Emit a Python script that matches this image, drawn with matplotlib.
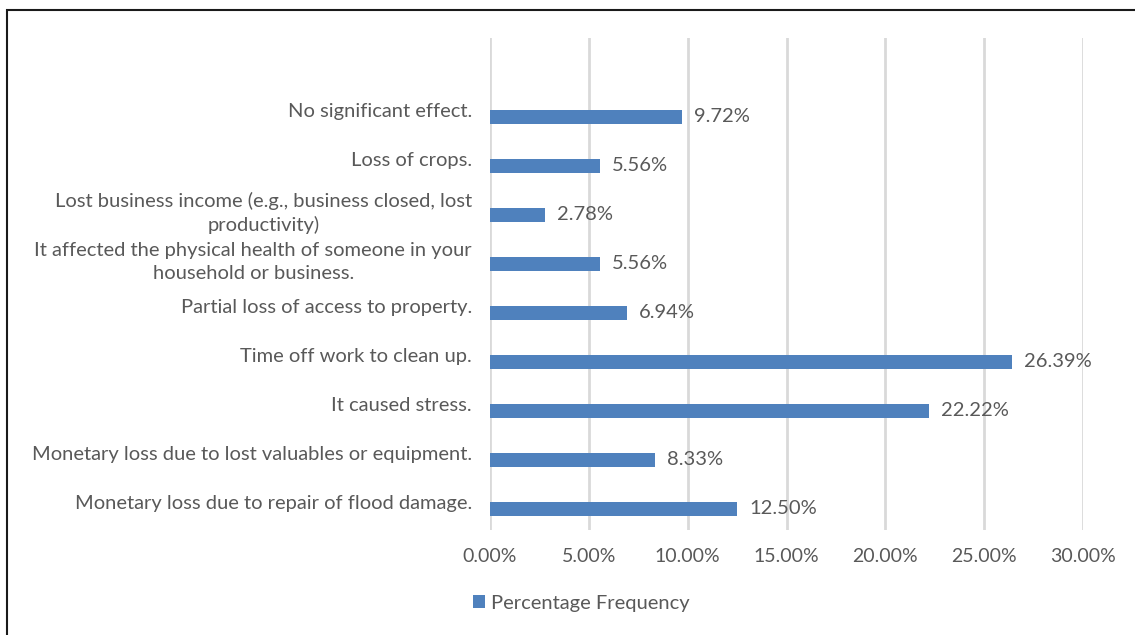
import numpy as np
import matplotlib.pyplot as plt
from matplotlib.patches import Rectangle
from matplotlib.ticker import FuncFormatter

# Flood impact responses, bottom row first
labels = [
    "Monetary loss due to repair of flood damage.",
    "Monetary loss due to lost valuables or equipment.",
    "It caused stress.",
    "Time off work to clean up.",
    "Partial loss of access to property.",
    "It affected the physical health of someone in your\nhousehold or business.",
    "Lost business income (e.g., business closed, lost\nproductivity)",
    "Loss of crops.",
    "No significant effect.",
]
pct = [12.50, 8.33, 22.22, 26.39, 6.94, 5.56, 2.78, 5.56, 9.72]
xticks = [0, 5, 10, 15, 20, 25, 30]

bar_color = "#4F81BD"
text_color = "#595959"
grid_color = "#D9D9D9"

plt.rcParams["font.family"] = ["Lato", "DejaVu Sans"]

fig = plt.figure(figsize=(11.35, 6.35), dpi=100)
ax = fig.add_axes([490 / 1135, 1 - 530 / 635, (1083 - 490) / 1135, (530 - 38) / 635])

y = np.arange(len(labels))
bars = ax.barh(y - 0.14, pct, height=0.27, color=bar_color, zorder=3,
               label="Percentage Frequency")

for b, v in zip(bars, pct):
    ax.text(b.get_width() + 0.6, b.get_y() + b.get_height() / 2, f"{v:.2f}%",
            va="center", ha="left", fontsize=14.5, color=text_color)

ax.set_xlim(0, 30)
ax.set_ylim(-0.57, 9.47)
ax.set_xticks(xticks)
ax.xaxis.set_major_formatter(FuncFormatter(lambda v, p: f"{v:.2f}%"))
ax.set_yticks(y)
ax.set_yticklabels(labels, multialignment="center", linespacing=1.45)
ax.tick_params(axis="both", length=0, labelsize=14.5, labelcolor=text_color)
ax.tick_params(axis="x", labelsize=14, pad=13)
ax.tick_params(axis="y", pad=13)
ax.grid(axis="x", color=grid_color, linewidth=2, zorder=0)
for s in ax.spines.values():
    s.set_visible(False)

leg = fig.legend(handles=[bars], labels=["Percentage Frequency"],
                 loc="center left", bbox_to_anchor=(455 / 1135, 1 - 603 / 635),
                 frameon=False, fontsize=14.5, handlelength=0.6, handleheight=0.6,
                 handletextpad=0.3, labelcolor=text_color)

# outer chart frame
fig.patches.append(Rectangle((7 / 1135, -0.05), 1.1, 1 - 10 / 635 + 0.05,
                             transform=fig.transFigure, fill=False,
                             edgecolor="#1a1a1a", linewidth=1.5, zorder=10))

fig.savefig("out.png", dpi=100)
